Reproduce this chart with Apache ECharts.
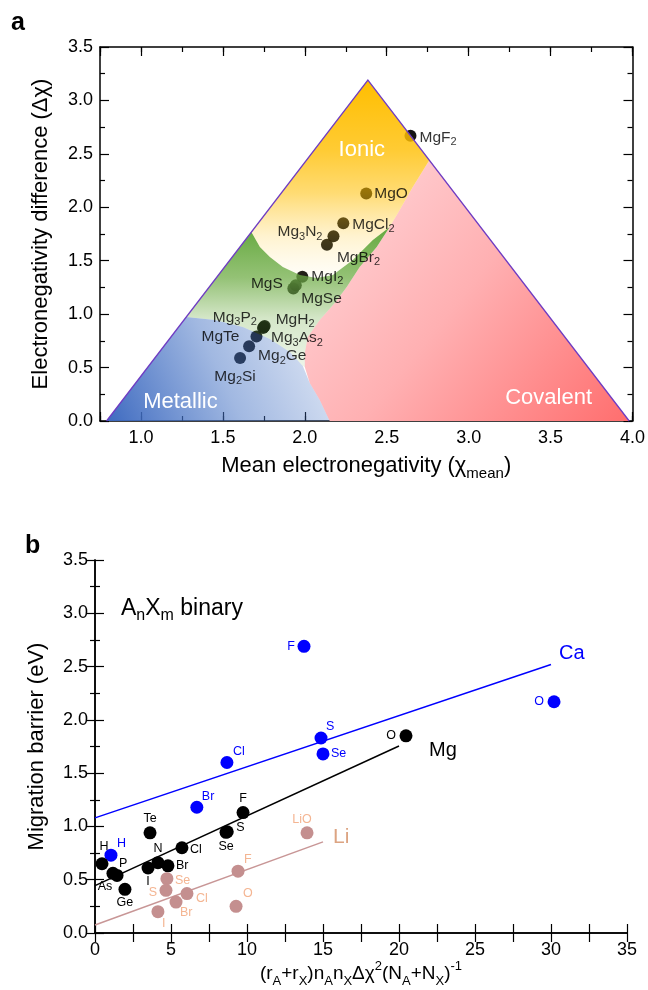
<!DOCTYPE html>
<html><head><meta charset="utf-8">
<script src="https://cdn.jsdelivr.net/npm/echarts@6/dist/echarts.min.js"></script>
<style>html,body{margin:0;padding:0;background:#fff}#c{width:648px;height:990px}</style>
</head><body><div id="c"></div>
<script>
const FONT = '"Liberation Sans", Arial, Helvetica, sans-serif';

// ---------- Panel a values ----------
const compoundsA = ['MgF2','MgO','MgCl2','Mg3N2','MgBr2','MgI2','MgS','MgSe','MgH2','Mg3P2','Mg3As2','MgTe','Mg2Ge','Mg2Si'];
const chiMeanA = [2.645,2.375,2.235,2.175,2.135,1.985,1.945,1.93,1.755,1.75,1.745,1.705,1.66,1.605];
const chiDiffA = [2.67,2.13,1.85,1.73,1.65,1.35,1.27,1.24,0.89,0.88,0.87,0.79,0.70,0.59];

// van Arkel-Ketelaar triangle and region boundaries (data units)
const triangleVerts = [[0.79,0],[2.385,3.19],[3.98,0]];
const ionicRegion = [[2.385,3.19],[2.76,2.44],[2.659,2.19],[2.579,1.975],[2.518,1.815],[2.415,1.694],[2.293,1.507],[2.171,1.366],[2.073,1.338],[1.97,1.366],[1.866,1.441],[1.787,1.535],[1.726,1.628],[1.674,1.769]];
const semiRegion = [[1.674,1.769],[1.726,1.628],[1.787,1.535],[1.866,1.441],[1.97,1.366],[2.073,1.338],[2.171,1.366],[2.293,1.507],[2.415,1.694],[2.518,1.815],[2.439,1.628],[2.335,1.441],[2.256,1.254],[2.183,1.104],[2.091,0.945],[2.018,0.786],[2.0,0.636],[2.0,0.505],[1.988,0.515],[1.909,0.646],[1.787,0.767],[1.622,0.88],[1.451,0.945],[1.277,0.973]];
const metallicRegion = [[0.79,0],[1.277,0.973],[1.451,0.945],[1.622,0.88],[1.787,0.767],[1.909,0.646],[1.988,0.515],[2.018,0.402],[2.03,0.356],[2.091,0.197],[2.14,0.037],[2.152,0]];
const covalentRegion = [[2.76,2.44],[3.98,0],[2.152,0],[2.14,0.037],[2.091,0.197],[2.03,0.356],[2.0,0.505],[2.0,0.636],[2.018,0.786],[2.091,0.945],[2.183,1.104],[2.256,1.254],[2.335,1.441],[2.439,1.628],[2.518,1.815],[2.579,1.975],[2.659,2.19]];
const regionNames = ['Ionic','Metallic','Covalent'];
const regionNamePos = [[2.348,2.536],[1.241,0.178],[3.488,0.215]];

// ---------- Panel b values ----------
const caElems = ['F','O','S','Se','Cl','Br','H'];
const caX = [13.75,30.2,14.87,15.0,8.68,6.7,1.05];
const caY = [2.69,2.17,1.83,1.68,1.60,1.18,0.73];
const mgElems = ['O','F','S','Se','Te','Cl','N','Br','I','H','P','As','Ge'];
const mgX = [20.46,9.74,8.70,8.62,3.62,5.72,4.14,4.8,3.49,0.46,1.18,1.45,1.97];
const mgY = [1.85,1.13,0.95,0.945,0.94,0.80,0.66,0.63,0.61,0.65,0.56,0.54,0.41];
const liElems = ['LiO','F','Se','S','Cl','Br','I','O'];
const liX = [13.95,9.41,4.73,4.67,6.05,5.33,4.14,9.28];
const liY = [0.94,0.58,0.51,0.40,0.37,0.29,0.20,0.25];
const caFit = [[0,1.08],[30,2.52]];
const mgFit = [[0,0.445],[20,1.755]];
const liFit = [[0,0.075],[15,0.855]];

// ---------- label placement (layout, not data) ----------
const placeA = {MgF2:['left',9,2],MgO:['left',8,0],MgCl2:['left',9,1],Mg3N2:['right',-11,-4],MgBr2:['left',10,13],
  MgI2:['left',9,0],MgS:['right',-13,-2],MgSe:['left',8,10],MgH2:['left',11,-6],Mg3P2:['right',-7,-9],
  Mg3As2:['left',8,10],MgTe:['right',-17,0],Mg2Ge:['left',9,10],Mg2Si:['center',-5,19]};
const placeCa = {F:['right',-9,0],O:['right',-10,0],S:['left',5,-11],Se:['left',8,0],Cl:['left',6,-11],Br:['left',5,-11],H:['left',6,-12]};
const placeMg = {O:['right',-10,0],F:['center',0,-14],S:['left',9,-4],Se:['center',0,14],Te:['center',0,-14],Cl:['left',8,2],
  N:['center',0,-14],Br:['left',8,0],I:['center',0,14],H:['center',2,-17],P:['left',6,-10],As:['center',-12,11],Ge:['center',0,13]};
const placeLi = {LiO:['center',-5,-13],F:['left',6,-12],Se:['left',8,2],S:['right',-9,2],Cl:['left',9,5],Br:['left',4,10],I:['left',4,12],O:['left',7,-13]};

const mkItems = (names, xs, ys, place) => names.map((n,i) => ({
  name: n, value: [xs[i], ys[i]],
  label: place ? {align: place[n][0], offset: [place[n][1], place[n][2]]} : undefined
}));

const chart = echarts.init(document.getElementById('c'), null, {renderer: 'canvas'});

const subRich = (fs) => ({
  s: {fontSize: fs, fontFamily: FONT, verticalAlign: 'bottom', lineHeight: fs},
  p: {fontSize: fs, fontFamily: FONT, verticalAlign: 'top', lineHeight: fs}
});
const nameStyle = {fontSize: 22, color: '#000', fontFamily: FONT, lineHeight: 30, rich: subRich(15)};
const lineBlack = {show: true, lineStyle: {color: '#000', width: 1.5}};
const tickLab = {color: '#000', fontSize: 18, fontFamily: FONT};
const half = v => Math.abs(v*2 - Math.round(v*2)) < 1e-6;

function regionRender(params, api) {
  const px = arr => arr.map(p => api.coord(p));
  const G = echarts.graphic.LinearGradient;
  const children = [
    {type: 'polygon', shape: {points: px(covalentRegion)},
      style: {fill: new G(0, 0, 1, 1, [{offset: 0, color: '#FFDADE'}, {offset: 0.5, color: '#FFB0B2'}, {offset: 1, color: '#FF6E6E'}])}},
    {type: 'polygon', shape: {points: px(semiRegion)},
      style: {fill: new G(0, 0, 0, 1, [{offset: 0, color: 'rgba(100,168,62,1)'}, {offset: 0.36, color: 'rgba(112,173,71,0.75)'}, {offset: 0.65, color: 'rgba(112,173,71,0.3)'}, {offset: 1, color: 'rgba(112,173,71,0.12)'}])}},
    {type: 'polygon', shape: {points: px(ionicRegion)},
      style: {fill: new G(0, 0, 0, 1, [{offset: 0, color: 'rgba(255,190,0,1)'}, {offset: 0.35, color: 'rgba(255,190,0,0.8)'}, {offset: 0.57, color: 'rgba(255,190,0,0.55)'}, {offset: 0.79, color: 'rgba(255,200,40,0.22)'}, {offset: 1, color: 'rgba(255,220,100,0.04)'}])}},
    {type: 'polygon', shape: {points: px(metallicRegion)},
      style: {fill: new G(0, 1, 1, 0, [{offset: 0, color: 'rgba(62,106,192,1)'}, {offset: 0.5, color: 'rgba(68,114,196,0.5)'}, {offset: 1, color: 'rgba(68,114,196,0.15)'}])}},
    {type: 'polyline', shape: {points: px(triangleVerts)}, style: {stroke: '#6F3CC3', lineWidth: 1.3, fill: null}}
  ];
  regionNames.forEach((n, i) => {
    const c = api.coord(regionNamePos[i]);
    children.push({type: 'text', x: c[0], y: c[1], style: {text: n, fill: '#fff', fontSize: 22, fontFamily: FONT, align: 'center', verticalAlign: 'middle'}});
  });
  return {type: 'group', children};
}

const valAxis = (o) => Object.assign({type: 'value', splitLine: {show: false}, axisLine: lineBlack,
  axisTick: {show: true, inside: true, length: 9, lineStyle: {color: '#000', width: 1.2}}}, o);

const option = {
  animation: false,
  backgroundColor: '#fff',
  textStyle: {fontFamily: FONT},
  grid: [
    {left: 100, right: 15, top: 47, height: 374},
    {left: 95, right: 21, top: 560, height: 373}
  ],
  xAxis: [
    valAxis({gridIndex: 0, min: 0.75, max: 4, splitNumber: 6, position: 'bottom',
      axisLabel: Object.assign({margin: 8, formatter: v => (half(v) && v > 0.8) ? v.toFixed(1) : ''}, tickLab),
      name: 'Mean electronegativity (χ{s|mean})', nameLocation: 'middle', nameGap: 30, nameTextStyle: nameStyle}),
    valAxis({gridIndex: 0, min: 0.75, max: 4, interval: 0.25, position: 'bottom', axisLine: {show: false}, axisLabel: {show: false},
      axisTick: {show: true, inside: true, length: 5, lineStyle: {color: '#000', width: 1.2}}}),
    valAxis({gridIndex: 0, min: 0.75, max: 4, splitNumber: 6, position: 'top', axisLabel: {show: false}}),
    valAxis({gridIndex: 0, min: 0.75, max: 4, interval: 0.25, position: 'top', axisLine: {show: false}, axisLabel: {show: false},
      axisTick: {show: true, inside: true, length: 5, lineStyle: {color: '#000', width: 1.2}}}),
    valAxis({gridIndex: 1, min: 0, max: 35, interval: 2.5, position: 'bottom',
      axisLabel: Object.assign({margin: 8, formatter: v => (v % 5 === 0) ? String(v) : ''}, tickLab),
      name: '(r{s|A}+r{s|X})n{s|A}n{s|X}Δχ{p|2}(N{s|A}+N{s|X}){p|-1}', nameLocation: 'middle', nameGap: 27,
      nameTextStyle: Object.assign({}, nameStyle, {fontSize: 19, lineHeight: 28, rich: subRich(13)})}),
    valAxis({gridIndex: 1, min: 0, max: 35, interval: 2.5, position: 'top', axisLabel: {show: false}})
  ],
  yAxis: [
    valAxis({gridIndex: 0, min: 0, max: 3.5, interval: 0.5, position: 'left',
      minorTick: {show: true, splitNumber: 2, length: 5, lineStyle: {color: '#000', width: 1.2}},
      axisLabel: Object.assign({margin: 7, formatter: v => v.toFixed(1)}, tickLab),
      name: 'Electronegativity difference (Δχ)', nameLocation: 'middle', nameGap: 44, nameTextStyle: nameStyle}),
    valAxis({gridIndex: 0, min: 0, max: 3.5, interval: 0.5, position: 'right', axisLabel: {show: false},
      minorTick: {show: true, splitNumber: 2, length: 5, lineStyle: {color: '#000', width: 1.2}}}),
    valAxis({gridIndex: 1, min: 0, max: 3.5, interval: 0.5, position: 'left',
      minorTick: {show: true, splitNumber: 2, length: 5, lineStyle: {color: '#000', width: 1.2}},
      axisLabel: Object.assign({margin: 7, formatter: v => v.toFixed(1)}, tickLab),
      name: 'Migration barrier (eV)', nameLocation: 'middle', nameGap: 40, nameTextStyle: nameStyle}),
    valAxis({gridIndex: 1, min: 0, max: 3.5, interval: 0.5, position: 'right', axisLabel: {show: false},
      minorTick: {show: true, splitNumber: 2, length: 5, lineStyle: {color: '#000', width: 1.2}}})
  ],
  graphic: [
    {type: 'text', left: 11, top: 11, style: {text: 'a', fontSize: 25, fontWeight: 'bold', fontFamily: FONT, fill: '#000'}},
    {type: 'text', left: 25, top: 534, style: {text: 'b', fontSize: 25, fontWeight: 'bold', fontFamily: FONT, fill: '#000'}},
    {type: 'text', left: 121, top: 594, style: {text: 'A{s|n}X{s|m} binary', fontSize: 23, fontFamily: FONT, fill: '#000', lineHeight: 30,
      rich: {s: {fontSize: 16, fontFamily: FONT, verticalAlign: 'bottom', lineHeight: 16}}}}
  ],
  series: [
    {type: 'scatter', xAxisIndex: 0, yAxisIndex: 0, z: 2, symbolSize: 12, silent: true,
      itemStyle: {color: '#000', opacity: 0.92},
      data: mkItems(compoundsA, chiMeanA, chiDiffA, null)},
    {type: 'custom', xAxisIndex: 0, yAxisIndex: 0, z: 3, silent: true, renderItem: regionRender, data: [[2, 1]]},
    {type: 'scatter', xAxisIndex: 0, yAxisIndex: 0, z: 5, symbolSize: 12, silent: true,
      itemStyle: {color: 'transparent'},
      label: {show: true, position: 'inside', verticalAlign: 'middle', color: '#000', fontSize: 15.5, fontFamily: FONT, lineHeight: 20,
        formatter: p => p.name.replace(/(\d)/g, '{s|$1}'),
        rich: {s: {fontSize: 11, fontFamily: FONT, verticalAlign: 'bottom', lineHeight: 11, color: '#000'}}},
      data: mkItems(compoundsA, chiMeanA, chiDiffA, placeA)},

    {type: 'line', xAxisIndex: 4, yAxisIndex: 2, data: caFit, showSymbol: false, silent: true, z: 2,
      lineStyle: {color: '#0000FF', width: 1.5},
      endLabel: {show: true, formatter: 'Ca', color: '#0000FF', fontSize: 20, fontFamily: FONT, distance: 0, align: 'left', verticalAlign: 'middle', offset: [8, -11]}},
    {type: 'line', xAxisIndex: 4, yAxisIndex: 2, data: mgFit, showSymbol: false, silent: true, z: 2,
      lineStyle: {color: '#000', width: 1.5},
      endLabel: {show: true, formatter: 'Mg', color: '#000', fontSize: 20, fontFamily: FONT, distance: 0, align: 'left', verticalAlign: 'middle', offset: [30, 5]}},
    {type: 'line', xAxisIndex: 4, yAxisIndex: 2, data: liFit, showSymbol: false, silent: true, z: 2,
      lineStyle: {color: '#C89696', width: 1.5},
      endLabel: {show: true, formatter: 'Li', color: '#DCA482', fontSize: 21, fontFamily: FONT, distance: 0, align: 'left', verticalAlign: 'middle', offset: [10, -5]}},
    {type: 'scatter', xAxisIndex: 4, yAxisIndex: 2, z: 3, symbolSize: 13, silent: true,
      itemStyle: {color: '#0000FF', opacity: 1},
      label: {show: true, position: 'inside', verticalAlign: 'middle', color: '#0000FF', fontSize: 12.5, fontFamily: FONT, formatter: p => p.name},
      data: mkItems(caElems, caX, caY, placeCa)},
    {type: 'scatter', xAxisIndex: 4, yAxisIndex: 2, z: 3, symbolSize: 13, silent: true,
      itemStyle: {color: '#000', opacity: 1},
      label: {show: true, position: 'inside', verticalAlign: 'middle', color: '#000', fontSize: 12.5, fontFamily: FONT, formatter: p => p.name},
      data: mkItems(mgElems, mgX, mgY, placeMg)},
    {type: 'scatter', xAxisIndex: 4, yAxisIndex: 2, z: 3, symbolSize: 13, silent: true,
      itemStyle: {color: '#C48F8F', opacity: 1},
      label: {show: true, position: 'inside', verticalAlign: 'middle', color: '#F4B592', fontSize: 12.5, fontFamily: FONT, formatter: p => p.name},
      data: mkItems(liElems, liX, liY, placeLi)}
  ]
};
chart.setOption(option);
</script>
</body></html>
